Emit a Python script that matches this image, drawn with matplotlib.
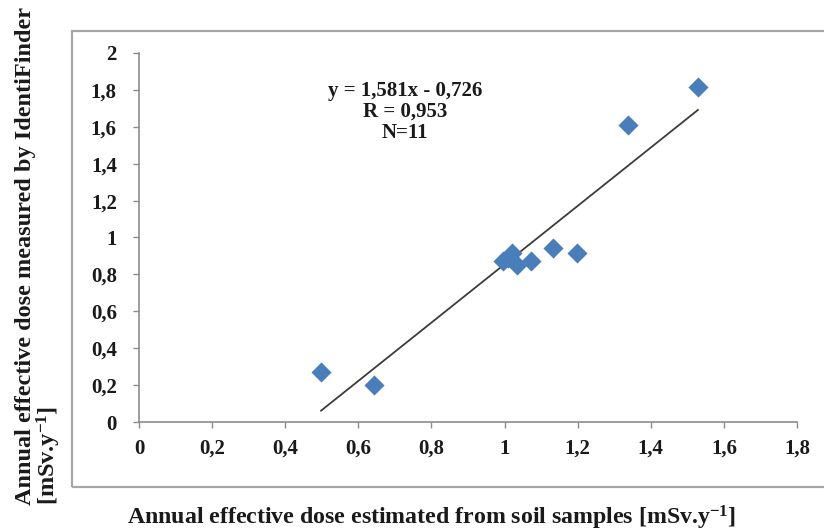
import matplotlib
matplotlib.use("Agg")
import matplotlib.pyplot as plt
from matplotlib.patches import Rectangle
import numpy as np

# Data
x_soil = [0.498, 0.643, 0.996, 1.010, 1.020, 1.034, 1.072, 1.132, 1.198, 1.338, 1.529]
y_ident = [0.27, 0.20, 0.87, 0.89, 0.915, 0.85, 0.875, 0.945, 0.915, 1.61, 1.815]
slope = 1.581
intercept = -0.726
x_ticks = [0, 0.2, 0.4, 0.6, 0.8, 1, 1.2, 1.4, 1.6, 1.8]
x_ticklabels = ["0", "0,2", "0,4", "0,6", "0,8", "1", "1,2", "1,4", "1,6", "1,8"]
y_ticks = [0, 0.2, 0.4, 0.6, 0.8, 1, 1.2, 1.4, 1.6, 1.8, 2]
y_ticklabels = ["0", "0,2", "0,4", "0,6", "0,8", "1", "1,2", "1,4", "1,6", "1,8", "2"]
annot = "y = 1,581x - 0,726\nR = 0,953\nN=11"

plt.rcParams["mathtext.fontset"] = "custom"
plt.rcParams["mathtext.rm"] = "Liberation Serif:bold"
plt.rcParams["mathtext.bf"] = "Liberation Serif:bold"
plt.rcParams["mathtext.it"] = "Liberation Serif:bold"

serif = ["Liberation Serif", "DejaVu Serif"]
txtcol = "#1a1a1a"
axcol = "#8c8c8c"

fig = plt.figure(figsize=(8.24, 5.31), dpi=100)
ax = fig.add_axes([139/824, 1-422/531, (797-139)/824, (422-53)/531])

# outer chart frame
fig.patches.append(Rectangle((72/824, 1-487/531), 1.0, (487-31)/531,
                             transform=fig.transFigure, fill=False,
                             edgecolor="#a6a6a6", linewidth=1.6, zorder=0))

ax.scatter(x_soil, y_ident, marker="D", s=105, color="#4a7ebb", zorder=3, linewidths=0)
xl = np.array([min(x_soil), max(x_soil)])
ax.plot(xl, slope*xl + intercept, color="#3c3c3c", linewidth=1.3, zorder=2)

ax.set_xlim(0, 1.8)
ax.set_ylim(0, 2)
ax.set_xticks(x_ticks)
ax.set_xticklabels(x_ticklabels)
ax.set_yticks(y_ticks)
ax.set_yticklabels(y_ticklabels)
for s in ["top", "right"]:
    ax.spines[s].set_visible(False)
for s in ["left", "bottom"]:
    ax.spines[s].set_color(axcol)
    ax.spines[s].set_linewidth(1.2)
ax.tick_params(axis="both", direction="out", length=4, width=1.0, color=axcol,
               labelcolor=txtcol, labelsize=15)
ax.tick_params(axis="x", pad=8)
ax.tick_params(axis="y", pad=12)
for lab in ax.get_xticklabels() + ax.get_yticklabels():
    lab.set_family(serif)
    lab.set_fontweight("bold")

ax.text(405/824, 1-112/531, annot, transform=fig.transFigure, ha="center", va="center",
        fontsize=15, fontweight="bold", family=serif, color=txtcol, linespacing=1.05)

fig.text(432/824, 1-518/531, "Annual effective dose estimated from soil samples [mSv.y$^{-1}$]",
         ha="center", va="center", fontsize=17.2, fontweight="bold", family=serif, color=txtcol)
fig.text(39/824, 1-505/531, "Annual effective dose measured by IdentiFinder\n[mSv.y$^{-1}$]",
         rotation=90, ha="center", va="bottom", multialignment="left",
         fontsize=17.5, fontweight="bold", family=serif, color=txtcol, linespacing=0.98)

fig.savefig("out.png", dpi=100)
